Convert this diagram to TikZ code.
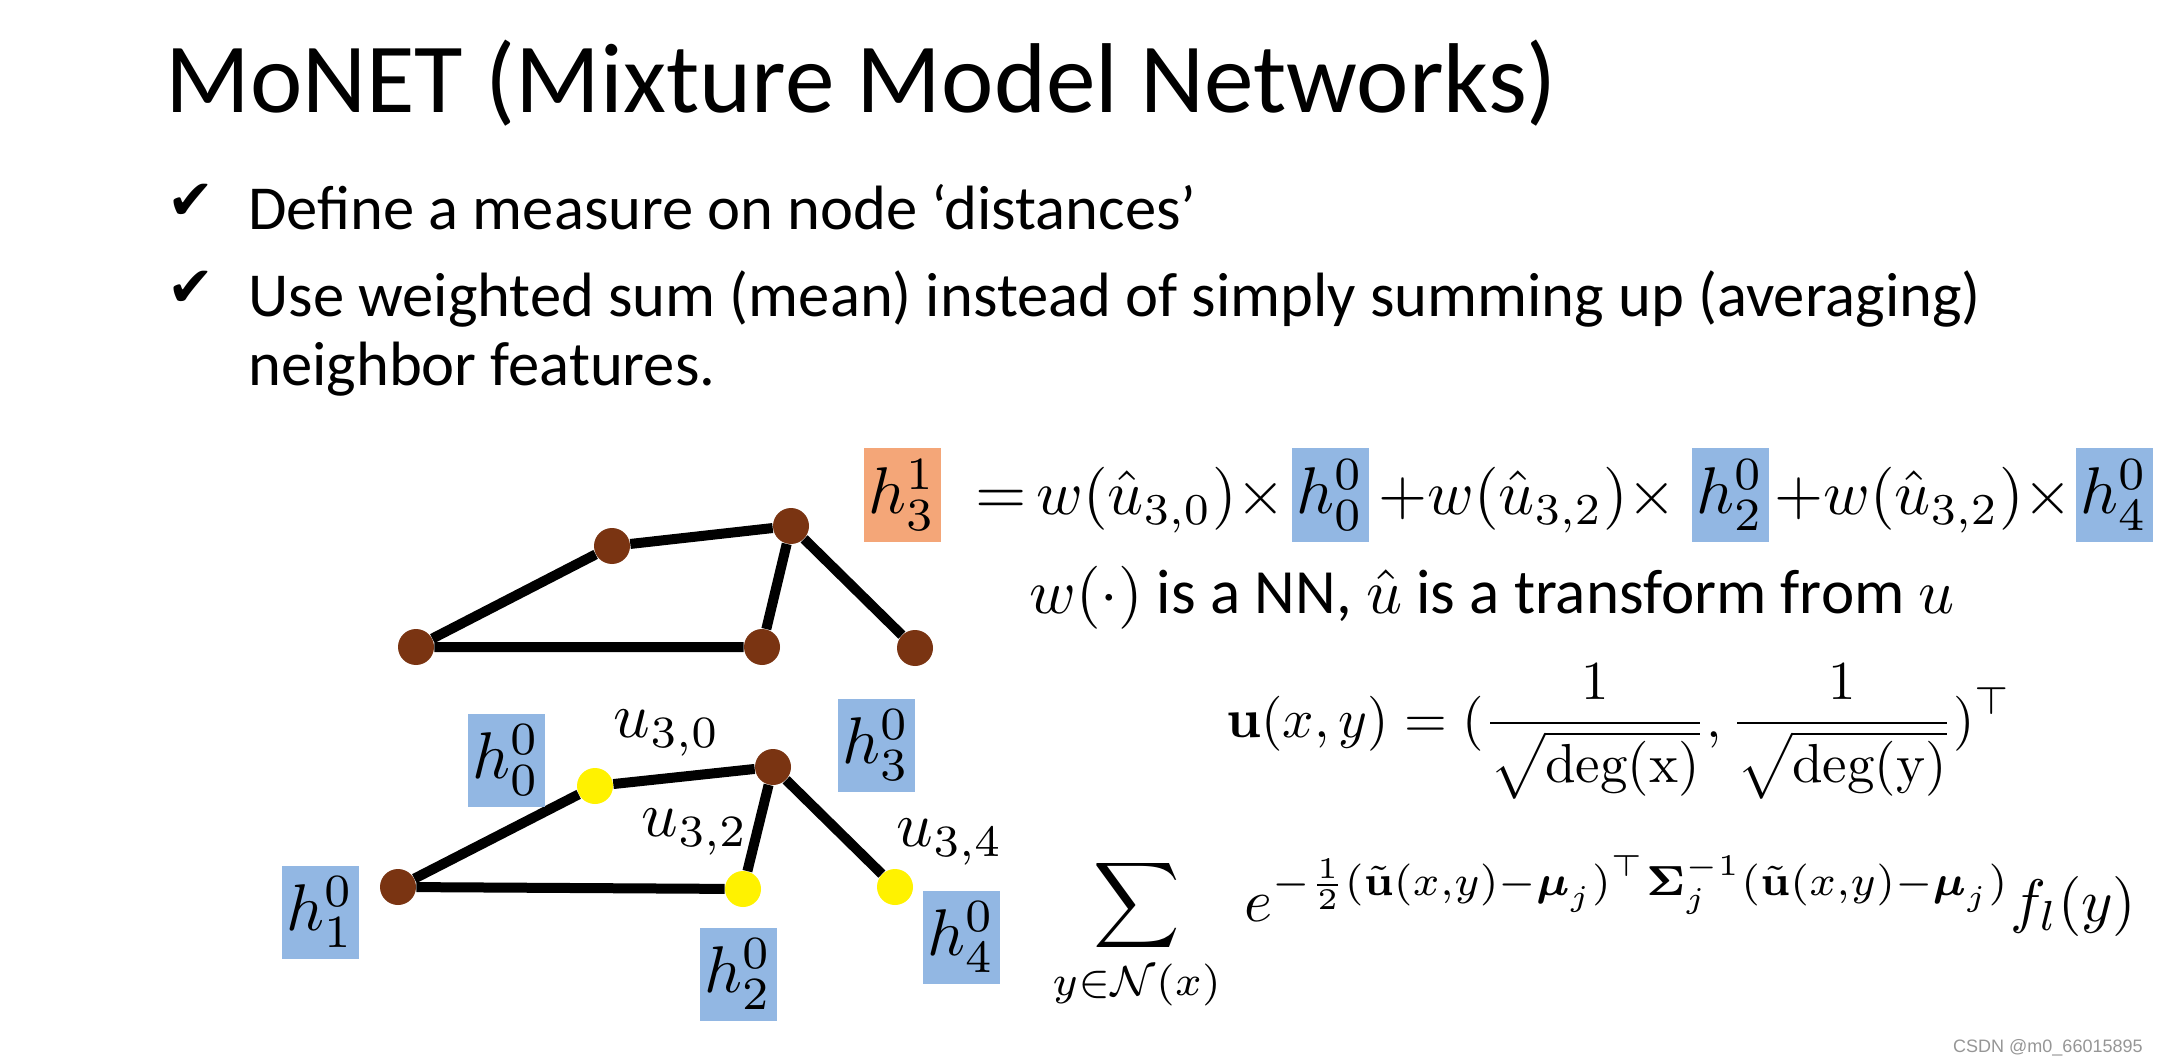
\documentclass[tikz,border=0pt]{standalone}
\usepackage{amsmath,amssymb}
\usepackage[no-math]{fontspec}
\setmainfont{Carlito}
\newfontfamily\symfont{DejaVu Sans}
\newfontfamily\wmfont{Liberation Sans}
\newcommand{\scmath}[2]{\scalebox{#1}{\fontsize{10}{12}\selectfont$#2$}}
\newcommand{\scdisp}[2]{\scalebox{#1}{\fontsize{10}{12}\selectfont$\displaystyle #2$}}
\definecolor{dotbrown}{RGB}{122,52,18}
\definecolor{dotyellow}{RGB}{255,242,0}
\definecolor{boxorange}{RGB}{244,166,120}
\definecolor{boxblue}{RGB}{146,183,227}
\definecolor{wmgray}{RGB}{150,150,150}
\tikzset{
  graphdot/.style={circle, minimum size=18pt, inner sep=0pt},
  browndot/.style={graphdot, fill=dotbrown},
  yellowdot/.style={graphdot, fill=dotyellow},
  edgeline/.style={line width=5pt},
  featbox/.style={fill=boxblue, minimum width=38.5pt, minimum height=46.5pt, inner sep=0pt},
  outbox/.style={featbox, fill=boxorange},
  eqtext/.style={anchor=base west, inner sep=0pt},
  ulabel/.style={inner sep=0pt},
  titletext/.style={anchor=base west, inner sep=0pt, font=\fontsize{49.6}{58}\selectfont},
  bullettext/.style={anchor=base west, inner sep=0pt, font=\fontsize{31.3}{36}\selectfont},
  checkmark/.style={inner sep=0pt, font=\symfont\fontsize{28}{30}\selectfont},
}
\begin{document}
\begin{tikzpicture}[x=0.5pt,y=-0.5pt]
\useasboundingbox (0,0) rectangle (2160,1064);
\fill[white] (0,0) rectangle (2160,1064);

% title and bullets
\node[titletext] (title) at (165,113) {MoNET (Mixture Model Networks)};
\node[checkmark] (ck1) at (191,202) {✔};
\node[bullettext] (b1) at (248,230) {Define a measure on node ‘distances’};
\node[checkmark] (ck2) at (191,289) {✔};
\node[bullettext] (b2) at (248,317) {Use weighted sum (mean) instead of simply summing up (averaging)};
\node[bullettext] (b3) at (248,386) {neighbor features.};

% top graph
\node[browndot] (ta) at (416,647) {};
\node[browndot] (tb) at (612,546) {};
\node[browndot] (tc) at (791,526) {};
\node[browndot] (td) at (762,647) {};
\node[browndot] (te) at (915,648) {};
\draw[edgeline] (ta) -- (tb) (tb) -- (tc) (tc) -- (td) (ta) -- (td) (tc) -- (te);

% bottom graph
\node[browndot] (ba) at (398,887) {};
\node[yellowdot] (bb) at (595,786) {};
\node[browndot] (bc) at (773,767) {};
\node[yellowdot] (bd) at (743,889) {};
\node[yellowdot] (be) at (895,887) {};
\draw[edgeline] (ba) -- (bb) (bb) -- (bc) (bc) -- (bd) (ba) -- (bd) (bc) -- (be);

\node[featbox] (l0) at (506,760) {\scmath{3.3}{h_0^0}};
\node[featbox] (l3) at (876,745) {\scmath{3.3}{h_3^0}};
\node[featbox] (l1) at (320,912) {\scmath{3.3}{h_1^0}};
\node[featbox] (l2) at (738,974) {\scmath{3.3}{h_2^0}};
\node[featbox] (l4) at (961,937) {\scmath{3.3}{h_4^0}};
\node[ulabel] (u30) at (667,733) {\scmath{3.2}{u_{3,0}}};
\node[ulabel] (u32) at (695,832) {\scmath{3.2}{u_{3,2}}};
\node[ulabel] (u34) at (950,842) {\scmath{3.2}{u_{3,4}}};

% update equation
\node[outbox] (h31) at (902,495) {\scmath{3.3}{h_3^1}};
\node[eqtext] (eqs) at (975,515) {\scmath{3.3}{=}};
\node[eqtext] (t0) at (1036,515) {\scmath{3.15}{w(\hat{u}_{3,0})\times}};
\node[featbox] (q0) at (1330,495) {\scmath{3.3}{h_0^0}};
\node[eqtext] (t2) at (1378,515) {\scmath{3.15}{+w(\hat{u}_{3,2})\times}};
\node[featbox] (q2) at (1730,495) {\scmath{3.3}{h_2^0}};
\node[eqtext] (t4) at (1774,515) {\scmath{3.15}{+w(\hat{u}_{3,2})\times}};
\node[featbox] (q4) at (2114,495) {\scmath{3.3}{h_4^0}};

\node[anchor=base west, inner sep=0pt, font=\fontsize{31.5}{36}\selectfont] (wnote) at (1029,613)
  {\scmath{3.15}{w(\cdot)} is a NN, \scmath{3.15}{\hat{u}} is a transform from \scmath{3.15}{u}};

% formulas
\node[anchor=base west, inner sep=0pt] (uform) at (1226,737)
  {\scdisp{2.75}{\mathbf{u}(x,y) = (\frac{1}{\sqrt{\mathrm{deg(x)}}}, \frac{1}{\sqrt{\mathrm{deg(y)}}})^{\top}}};
\node[anchor=base west, inner sep=0pt] (sform) at (1052,921)
  {\scdisp{3.0}{\sum_{y\in\mathcal{N}(x)}\hspace{0.23em} e^{-\frac{1}{2}(\tilde{\mathbf{u}}(x,y)-\boldsymbol{\mu}_j)^{\top}\boldsymbol{\Sigma}_j^{-1}(\tilde{\mathbf{u}}(x,y)-\boldsymbol{\mu}_j)} f_l(y)}};

% watermark
\node[anchor=base east, inner sep=0pt, text=wmgray, font=\wmfont\fontsize{9}{11}\selectfont] (wm) at (2143,1052) {CSDN @m0\_66015895};
\end{tikzpicture}
\end{document}
